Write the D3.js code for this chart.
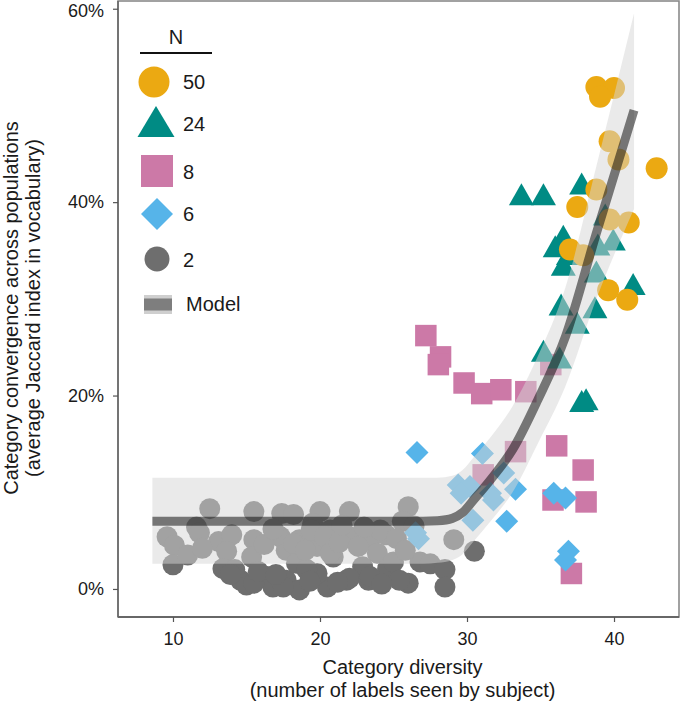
<!DOCTYPE html>
<html>
<head>
<meta charset="utf-8">
<script src="https://cdn.jsdelivr.net/npm/d3@7"></script>
<style>
  html, body { margin: 0; padding: 0; background: #fff; }
  svg { display: block; font-family: "Liberation Sans", Arial, Helvetica, sans-serif; }
</style>
</head>
<body>
<svg id="chart" width="685" height="707"></svg>
<script>
// ---------------- DATA ----------------
const xTicks = [10, 20, 30, 40];
const yTicks = [0, 20, 40, 60];           // percent
const legendLevels = ["50", "24", "8", "6", "2"];

// N = 50 (circles)
const n50 = [[38.8,51.9],[40.0,51.8],[39.05,50.9],[39.7,46.3],[40.3,44.4],[42.9,43.5],[38.8,41.3],
  [37.5,39.5],[39.7,38.2],[41.0,37.9],[37.0,35.1],[37.9,34.5],[39.6,30.9],[40.9,29.9]];
// N = 24 (triangles)
const n24 = [[33.7,40.6],[35.2,40.6],[37.8,41.7],[39.4,38.5],[36.55,36.3],[36.0,35.2],[36.9,34.4],
  [36.55,33.3],[38.9,35.4],[39.95,35.9],[41.3,31.3],[38.8,32.6],[36.4,29.2],[38.7,28.9],[37.5,27.3],
  [37.8,19.2],[38.1,19.4],[35.2,24.4],[36.3,23.7]];
// N = 8 (squares)
const n8 = [[27.2,26.2],[28.2,24.0],[28.05,23.2],[29.8,21.3],[31.0,20.2],[32.3,20.6],[34.0,20.4],
  [35.7,23.2],[33.3,14.2],[36.1,14.8],[31.1,11.8],[37.9,12.3],[38.1,9.0],[35.85,9.2],[37.1,1.6]];
// N = 6 (diamonds)
const n6 = [[26.6,14.1],[31.05,14.0],[32.5,12.0],[33.3,10.3],[29.4,10.75],[30.2,10.6],[31.6,9.9],
  [31.8,9.2],[32.7,7.0],[30.4,7.1],[26.7,5.2],[26.5,5.8],[35.9,9.9],[36.7,9.4],[36.9,3.9],[36.7,3.0],
  [29.6,9.9]];
// N = 2 (circles)
const n2 = [[9.6,5.4],[10.1,4.5],[10.0,2.5],[11.0,3.5],[11.6,6.4],[11.8,5.8],[12.5,8.3],[13.1,4.9],
  [14.0,5.6],[13.65,3.9],[13.4,2.1],[14.6,0.9],[15.0,0.4],[15.5,5.1],[15.5,8.0],[15.35,3.3],[14.2,2.0],
  [16.4,1.3],[16.8,0.2],[17.4,7.8],[18.2,7.7],[17.3,5.4],[17.7,4.0],[18.6,5.1],[17.7,0.9],[18.6,-0.1],
  [18.4,2.65],[20.0,8.0],[19.5,6.8],[19.8,4.4],[20.7,6.1],[20.9,3.3],[20.5,0.2],[19.8,1.6],[21.8,0.9],
  [17.1,5.6],[18.2,4.7],[19.4,6.1],[20.3,5.4],[20.7,3.7],[22.0,5.4],[23.4,5.2],[24.5,5.6],[23.9,3.7],
  [22.9,2.3],[22.0,1.1],[23.3,0.9],[24.6,2.1],[17.5,0.2],[15.5,0.6],[19.1,2.0],[22.0,8.0],[26.0,8.5],
  [25.6,7.0],[24.1,6.1],[25.0,2.8],[26.8,2.8],[27.5,2.6],[28.5,2.0],[28.5,0.2],[26.0,0.6],[25.4,0.9],
  [23.4,1.3],[29.1,5.1],[30.5,3.9],[12.0,4.2],[16.2,4.6],[16.8,6.2],[19.0,4.0],[21.3,4.8],[21.5,6.6],
  [22.6,4.4],[23.0,6.4],[25.2,5.2],[25.8,4.0],[26.4,6.5],[13.9,1.5],[15.8,1.8],[19.3,0.8],[21.2,0.7],
  [17.0,1.5],[24.2,0.5]];

// Model fit and confidence band (percent)
const modelX   = [8.6, 12, 16, 20, 24, 27, 28, 29, 29.7, 30.5, 31.6, 33.1, 34.8, 36.7, 38.8, 41.36];
const modelFit = [7.0, 7.0, 7.0, 7.0, 7.0, 7.0, 7.05, 7.3, 7.9, 9.3, 11.3, 14.4, 19.5, 26.1, 36.8, 49.5];
const modelLo  = [2.6, 2.6, 2.6, 2.6, 2.6, 2.6, 2.7, 3.0, 3.6, 5.0, 7.0, 10.0, 15.0, 21.0, 30.0, 39.3];
const modelHi  = [11.5, 11.5, 11.5, 11.5, 11.5, 11.5, 11.5, 11.7, 12.3, 13.7, 15.7, 18.9, 24.0, 31.2, 43.7, 59.5];

// ---------------- STYLE ----------------
const col = { "50": "#EBA912", "24": "#008B84", "8": "#CC79A7", "6": "#56B4E9", "2": "#6E6E6E" };
const pL = 118, pR = 679, pT = 1, pB = 617;

const svg = d3.select("#chart");
const x = d3.scaleLinear().domain([6.26, 44.42]).range([pL, pR]);
const y = d3.scaleLinear().domain([-2.9, 60.8]).range([pB, pT]);

// shape path generators (centered at 0,0)
function circlePath(r) { return `M${-r},0A${r},${r} 0 1,0 ${r},0A${r},${r} 0 1,0 ${-r},0Z`; }
function triPath(w, h) { return `M0,${-0.6*h}L${w/2},${0.4*h}L${-w/2},${0.4*h}Z`; }
function sqPath(s) { const a = s/2; return `M${-a},${-a}H${a}V${a}H${-a}Z`; }
function diaPath(d) { return `M0,${-d}L${d},0L0,${d}L${-d},0Z`; }

// panel border
svg.append("rect").attr("x", pL).attr("y", pT).attr("width", pR-pL).attr("height", pB-pT)
  .attr("fill", "none").attr("stroke", "#8a8a8a").attr("stroke-width", 1.6);

const gPts = svg.append("g");
function drawSeries(data, key, path) {
  gPts.selectAll(null).data(data).enter().append("path")
    .attr("d", path)
    .attr("transform", d => `translate(${x(d[0])},${y(d[1])})`)
    .attr("fill", col[key]);
}
drawSeries(n2, "2", circlePath(10.5));
drawSeries(n8, "8", sqPath(21.5));
drawSeries(n6, "6", diaPath(11.5));
drawSeries(n24, "24", triPath(25, 22));
drawSeries(n50, "50", circlePath(11));

// model ribbon and line
const model = modelX.map((v, i) => ({ x: v, fit: modelFit[i], lo: modelLo[i], hi: modelHi[i] }));
svg.append("path").datum(model)
  .attr("d", d3.area().x(d => x(d.x)).y0(d => y(d.lo)).y1(d => y(d.hi)).curve(d3.curveMonotoneX))
  .attr("fill", "#d6d6d6").attr("fill-opacity", 0.5);
svg.append("path").datum(model)
  .attr("d", d3.line().x(d => x(d.x)).y(d => y(d.fit)).curve(d3.curveMonotoneX))
  .attr("fill", "none").attr("stroke", "#000").attr("stroke-opacity", 0.5).attr("stroke-width", 9);

// axes
const xAxis = svg.append("g").attr("transform", `translate(0,${pB})`)
  .call(d3.axisBottom(x).tickValues(xTicks).tickSize(5).tickPadding(10).tickFormat(d3.format("d")));
const yAxis = svg.append("g").attr("transform", `translate(${pL},0)`)
  .call(d3.axisLeft(y).tickValues(yTicks).tickSize(5).tickPadding(9).tickFormat(d => d + "%"));
[xAxis, yAxis].forEach(g => {
  g.select(".domain").attr("stroke", "#555").attr("stroke-width", 1.5);
  g.selectAll(".tick line").attr("stroke", "#555").attr("stroke-width", 1.2);
  g.selectAll(".tick text").attr("fill", "#1a1a1a").style("font-size", "18px");
});
yAxis.select(".domain").attr("d", `M0,${pT}V${pB}`).attr("stroke", "#666");
xAxis.select(".domain").attr("d", `M${pL},0H${pR}`);
// keep the top tick label inside the picture
yAxis.selectAll(".tick text").filter(d => d === 60).attr("dy", "0.42em");

// axis titles
const cx = (pL + pR) / 2;
svg.append("text").attr("x", cx + 4).attr("y", 674).attr("text-anchor", "middle")
  .style("font-size", "20px").attr("fill", "#1a1a1a").text("Category diversity");
svg.append("text").attr("x", cx + 4).attr("y", 697).attr("text-anchor", "middle")
  .style("font-size", "20px").attr("fill", "#1a1a1a").text("(number of labels seen by subject)");
const cy = 308;
svg.append("text").attr("transform", `translate(17.5,${cy}) rotate(-90)`).attr("text-anchor", "middle")
  .style("font-size", "20px").attr("fill", "#1a1a1a").text("Category convergence across populations");
svg.append("text").attr("transform", `translate(40,${cy}) rotate(-90)`).attr("text-anchor", "middle")
  .style("font-size", "20px").attr("fill", "#1a1a1a").text("(average Jaccard index in vocabulary)");

// legend
const lg = svg.append("g");
lg.append("text").attr("x", 176).attr("y", 44).attr("text-anchor", "middle")
  .style("font-size", "20px").attr("fill", "#1a1a1a").text("N");
lg.append("line").attr("x1", 140).attr("x2", 212).attr("y1", 53).attr("y2", 53)
  .attr("stroke", "#111").attr("stroke-width", 2);
const legendShapes = {
  "50": { p: circlePath(15.5), cx: 154, cy: 82 },
  "24": { p: triPath(37, 31), cx: 156, cy: 124.5 },
  "8":  { p: sqPath(32), cx: 157, cy: 171 },
  "6":  { p: diaPath(16), cx: 157, cy: 214 },
  "2":  { p: circlePath(12.5), cx: 157, cy: 259 }
};
const labelY = { "50": 82, "24": 124, "8": 172, "6": 214, "2": 260 };
legendLevels.forEach(k => {
  const s = legendShapes[k];
  lg.append("path").attr("d", s.p).attr("transform", `translate(${s.cx},${s.cy})`).attr("fill", col[k]);
  lg.append("text").attr("x", 183).attr("y", labelY[k]).attr("dy", "0.36em")
    .style("font-size", "20px").attr("fill", "#1a1a1a").text(k);
});
lg.append("rect").attr("x", 144).attr("y", 295).attr("width", 28).attr("height", 19).attr("fill", "#cfcfcf");
lg.append("rect").attr("x", 144).attr("y", 298.5).attr("width", 28).attr("height", 12).attr("fill", "#7e7e7e");
lg.append("text").attr("x", 186).attr("y", 304).attr("dy", "0.36em")
  .style("font-size", "20px").attr("fill", "#1a1a1a").text("Model");
</script>
</body>
</html>
